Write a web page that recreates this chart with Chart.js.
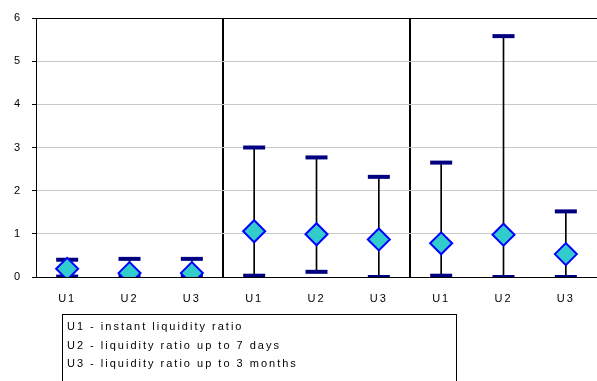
<!DOCTYPE html>
<html><head><meta charset="utf-8">
<script src="https://cdn.jsdelivr.net/npm/chart.js@4/dist/chart.umd.min.js"></script>
<style>
html,body{margin:0;padding:0;background:#fff;}
#wrap{position:relative;width:597px;height:381px;overflow:hidden;}
canvas{position:absolute;left:0;top:0;}
#legend{position:absolute;left:62px;top:314px;width:395px;height:80px;border:1px solid #000;
 font-family:"Liberation Sans",Arial,sans-serif;font-size:11px;letter-spacing:2px;line-height:18.7px;padding:2px 0 0 4px;box-sizing:border-box;color:#000;}
</style></head><body>
<div id="wrap"><canvas id="c" width="597" height="381"></canvas>
<div id="legend"><div>U1 - instant liquidity ratio</div><div>U2 - liquidity ratio up to 7 days</div><div>U3 - liquidity ratio up to 3 months</div></div></div>
<script>
const categories = ["U1","U2","U3","U1","U2","U3","U1","U2","U3"];
const maxValues  = [0.40, 0.42, 0.42, 3.00, 2.77, 2.32, 2.65, 5.58, 1.52];
const minValues  = [0.01, 0.04, 0.04, 0.03, 0.12, 0.00, 0.03, 0.00, 0.00];
const meanValues = [0.19, 0.09, 0.09, 1.06, 0.99, 0.87, 0.78, 0.98, 0.53];
const yTicks = [0,1,2,3,4,5,6];

const setLS = (chart)=>{ chart.ctx.letterSpacing='2px'; };
const letterSpacingPlugin = {id:'ls', beforeDraw:setLS, beforeDatasetsDraw:setLS, afterDatasetsDraw:setLS, afterRender:setLS};

new Chart(document.getElementById('c'), {
  type:'bar',
  data:{
    labels:categories,
    datasets:[
      {type:'line', label:'mean', data:meanValues, showLine:false, order:0,
       pointStyle:'rectRot', pointRadius:11, pointHoverRadius:11,
       backgroundColor:'#33CCCC', borderColor:'#0000FF', borderWidth:2},
      {type:'line', label:'max', data:maxValues, showLine:false, order:1,
       pointStyle:'line', pointRadius:11, pointHoverRadius:11,
       borderColor:'#000080', borderWidth:4},
      {type:'line', label:'min', data:minValues, showLine:false, order:1,
       pointStyle:'line', pointRadius:11, pointHoverRadius:11,
       borderColor:'#000080', borderWidth:4},
      {type:'bar', label:'range', data:minValues.map((v,i)=>[v,maxValues[i]]), order:2,
       barThickness:1, backgroundColor:'#000', borderWidth:0}
    ]
  },
  options:{
    responsive:false, animation:false,
    layout:{autoPadding:false, padding:{top:18,left:0,right:0,bottom:0}},
    plugins:{legend:{display:false}, tooltip:{enabled:false}},
    scales:{
      x:{
        offset:true,
        grid:{offset:true, drawTicks:false,
          color:(ctx)=> (ctx.index===3||ctx.index===6)?'#000':'rgba(0,0,0,0)',
          lineWidth:(ctx)=> (ctx.index===3||ctx.index===6)?2:0},
        border:{color:'#000', width:1},
        ticks:{color:'#000', padding:15, font:{family:'"Liberation Sans", Arial', size:11}},
        afterFit:(s)=>{ s.height = 104; s.paddingLeft = 0; s.paddingRight = 0; }
      },
      y:{
        min:0, max:6,
        afterBuildTicks:(s)=>{ s.ticks = yTicks.map(v=>({value:v})); },
        grid:{color:(ctx)=> ctx.tick && ctx.tick.value===6 ? '#000' : '#c8c8c8',
              tickColor:'#000', tickLength:4, lineWidth:1},
        border:{color:'#000', width:1},
        ticks:{color:'#000', padding:10, font:{family:'"Liberation Sans", Arial', size:11}},
        afterFit:(s)=>{ s.width = 36; }
      }
    }
  },
  plugins:[letterSpacingPlugin]
});
</script>
</body></html>
